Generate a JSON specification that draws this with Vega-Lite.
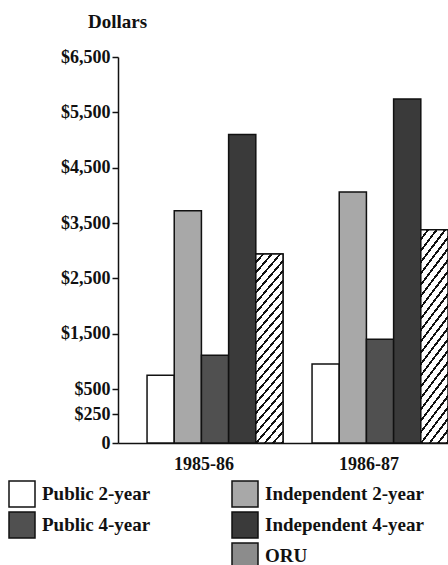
{
  "$schema": "https://vega.github.io/schema/vega-lite/v6.json",
  "autosize": {"type": "none"},
  "padding": {"left": 118, "top": 57, "right": 0, "bottom": 122},
  "width": 330,
  "height": 386,
  "background": "white",
  "config": {
    "view": {"stroke": null},
    "font": "Liberation Serif",
    "axis": {"grid": false, "domainColor": "#111111", "domainWidth": 1.5, "tickColor": "#111111", "labelColor": "#111111", "titleColor": "#111111", "labelFont": "Liberation Serif", "labelFontWeight": "bold", "titleFont": "Liberation Serif", "titleFontWeight": "bold"}
  },
  "data": {
    "values": [
      {"year": "1985-86", "type": "Public 2-year", "cost": 750},
      {"year": "1985-86", "type": "Independent 2-year", "cost": 3720},
      {"year": "1985-86", "type": "Public 4-year", "cost": 1110},
      {"year": "1985-86", "type": "Independent 4-year", "cost": 5100},
      {"year": "1985-86", "type": "ORU", "cost": 2940},
      {"year": "1986-87", "type": "Public 2-year", "cost": 950},
      {"year": "1986-87", "type": "Independent 2-year", "cost": 4060},
      {"year": "1986-87", "type": "Public 4-year", "cost": 1400},
      {"year": "1986-87", "type": "Independent 4-year", "cost": 5740},
      {"year": "1986-87", "type": "ORU", "cost": 3380}
    ]
  },
  "encoding": {
    "x": {
      "field": "year", "type": "nominal", "title": null,
      "scale": {"paddingInner": 0.176, "paddingOuter": 0.088, "align": 1},
      "axis": {"labelAngle": 0, "ticks": false, "labelFontSize": 18, "labelPadding": 12, "labelBaseline": "top", "labelOffset": -11}
    },
    "xOffset": {
      "field": "type", "type": "nominal",
      "scale": {"domain": ["Public 2-year", "Independent 2-year", "Public 4-year", "Independent 4-year", "ORU"], "paddingInner": 0, "paddingOuter": 0}
    },
    "y": {
      "field": "cost", "type": "quantitative", "title": "Dollars",
      "scale": {"domain": [0, 250, 500, 6500], "range": [386, 357, 332, 0], "nice": false, "zero": false},
      "axis": {
        "values": [0, 250, 500, 1500, 2500, 3500, 4500, 5500, 6500],
        "labelExpr": "datum.value === 0 ? '0' : '$' + format(datum.value, ',')",
        "labelFontSize": 18, "tickSize": 6, "tickWidth": 1.5, "labelPadding": 2,
        "titleAngle": 0, "titleFontSize": 19, "titleAlign": "center", "titleBaseline": "middle", "titleX": -1, "titleY": -36
      }
    }
  },
  "layer": [
    {
      "mark": {"type": "bar", "stroke": "#111111", "strokeWidth": 1.5},
      "encoding": {
        "color": {
          "field": "type", "type": "nominal",
          "scale": {
            "domain": ["Public 2-year", "Public 4-year", " ", "Independent 2-year", "Independent 4-year", "ORU"],
            "range": ["#ffffff", "#505050", "#ffffff", "#a8a8a8", "#3a3a3a", "#8c8c8c"]
          },
          "legend": {
            "title": null, "orient": "none", "legendX": -110, "legendY": 423, "padding": 0,
            "columns": 2, "columnPadding": 78, "rowPadding": -1,
            "symbolType": "square", "symbolSize": 676, "symbolStrokeColor": "#111111", "symbolStrokeWidth": 1.5, "symbolOpacity": 1,
            "labelFont": "Liberation Serif", "labelFontWeight": "bold", "labelFontSize": 19, "labelColor": "#111111", "labelOffset": 6, "labelLimit": 300,
            "encode": {"symbols": {"update": {"strokeOpacity": {"signal": "datum.value === ' ' ? 0 : 1"}, "fillOpacity": {"signal": "datum.value === ' ' ? 0 : 1"}}}}
          }
        }
      }
    },
    {
      "transform": [{"filter": "datum.type === 'ORU'"}],
      "mark": {
        "type": "bar", "stroke": "#111111", "strokeWidth": 1.5,
        "fill": {
          "gradient": "linear", "x1": 0, "y1": 0, "x2": 0.1918, "y2": 1.136,
          "stops": [
            {"offset": 0, "color": "#ffffff"}, {"offset": 0.0327, "color": "#ffffff"}, {"offset": 0.0327, "color": "#111111"}, {"offset": 0.0455, "color": "#111111"},
            {"offset": 0.0455, "color": "#ffffff"}, {"offset": 0.0782, "color": "#ffffff"}, {"offset": 0.0782, "color": "#111111"}, {"offset": 0.0909, "color": "#111111"},
            {"offset": 0.0909, "color": "#ffffff"}, {"offset": 0.1236, "color": "#ffffff"}, {"offset": 0.1236, "color": "#111111"}, {"offset": 0.1364, "color": "#111111"},
            {"offset": 0.1364, "color": "#ffffff"}, {"offset": 0.1691, "color": "#ffffff"}, {"offset": 0.1691, "color": "#111111"}, {"offset": 0.1818, "color": "#111111"},
            {"offset": 0.1818, "color": "#ffffff"}, {"offset": 0.2145, "color": "#ffffff"}, {"offset": 0.2145, "color": "#111111"}, {"offset": 0.2273, "color": "#111111"},
            {"offset": 0.2273, "color": "#ffffff"}, {"offset": 0.26, "color": "#ffffff"}, {"offset": 0.26, "color": "#111111"}, {"offset": 0.2727, "color": "#111111"},
            {"offset": 0.2727, "color": "#ffffff"}, {"offset": 0.3055, "color": "#ffffff"}, {"offset": 0.3055, "color": "#111111"}, {"offset": 0.3182, "color": "#111111"},
            {"offset": 0.3182, "color": "#ffffff"}, {"offset": 0.3509, "color": "#ffffff"}, {"offset": 0.3509, "color": "#111111"}, {"offset": 0.3636, "color": "#111111"},
            {"offset": 0.3636, "color": "#ffffff"}, {"offset": 0.3964, "color": "#ffffff"}, {"offset": 0.3964, "color": "#111111"}, {"offset": 0.4091, "color": "#111111"},
            {"offset": 0.4091, "color": "#ffffff"}, {"offset": 0.4418, "color": "#ffffff"}, {"offset": 0.4418, "color": "#111111"}, {"offset": 0.4545, "color": "#111111"},
            {"offset": 0.4545, "color": "#ffffff"}, {"offset": 0.4873, "color": "#ffffff"}, {"offset": 0.4873, "color": "#111111"}, {"offset": 0.5, "color": "#111111"},
            {"offset": 0.5, "color": "#ffffff"}, {"offset": 0.5327, "color": "#ffffff"}, {"offset": 0.5327, "color": "#111111"}, {"offset": 0.5455, "color": "#111111"},
            {"offset": 0.5455, "color": "#ffffff"}, {"offset": 0.5782, "color": "#ffffff"}, {"offset": 0.5782, "color": "#111111"}, {"offset": 0.5909, "color": "#111111"},
            {"offset": 0.5909, "color": "#ffffff"}, {"offset": 0.6236, "color": "#ffffff"}, {"offset": 0.6236, "color": "#111111"}, {"offset": 0.6364, "color": "#111111"},
            {"offset": 0.6364, "color": "#ffffff"}, {"offset": 0.6691, "color": "#ffffff"}, {"offset": 0.6691, "color": "#111111"}, {"offset": 0.6818, "color": "#111111"},
            {"offset": 0.6818, "color": "#ffffff"}, {"offset": 0.7145, "color": "#ffffff"}, {"offset": 0.7145, "color": "#111111"}, {"offset": 0.7273, "color": "#111111"},
            {"offset": 0.7273, "color": "#ffffff"}, {"offset": 0.76, "color": "#ffffff"}, {"offset": 0.76, "color": "#111111"}, {"offset": 0.7727, "color": "#111111"},
            {"offset": 0.7727, "color": "#ffffff"}, {"offset": 0.8055, "color": "#ffffff"}, {"offset": 0.8055, "color": "#111111"}, {"offset": 0.8182, "color": "#111111"},
            {"offset": 0.8182, "color": "#ffffff"}, {"offset": 0.8509, "color": "#ffffff"}, {"offset": 0.8509, "color": "#111111"}, {"offset": 0.8636, "color": "#111111"},
            {"offset": 0.8636, "color": "#ffffff"}, {"offset": 0.8964, "color": "#ffffff"}, {"offset": 0.8964, "color": "#111111"}, {"offset": 0.9091, "color": "#111111"},
            {"offset": 0.9091, "color": "#ffffff"}, {"offset": 0.9418, "color": "#ffffff"}, {"offset": 0.9418, "color": "#111111"}, {"offset": 0.9545, "color": "#111111"},
            {"offset": 0.9545, "color": "#ffffff"}, {"offset": 0.9873, "color": "#ffffff"}, {"offset": 0.9873, "color": "#111111"}, {"offset": 1, "color": "#111111"}
          ]
        }
      }
    }
  ]
}
